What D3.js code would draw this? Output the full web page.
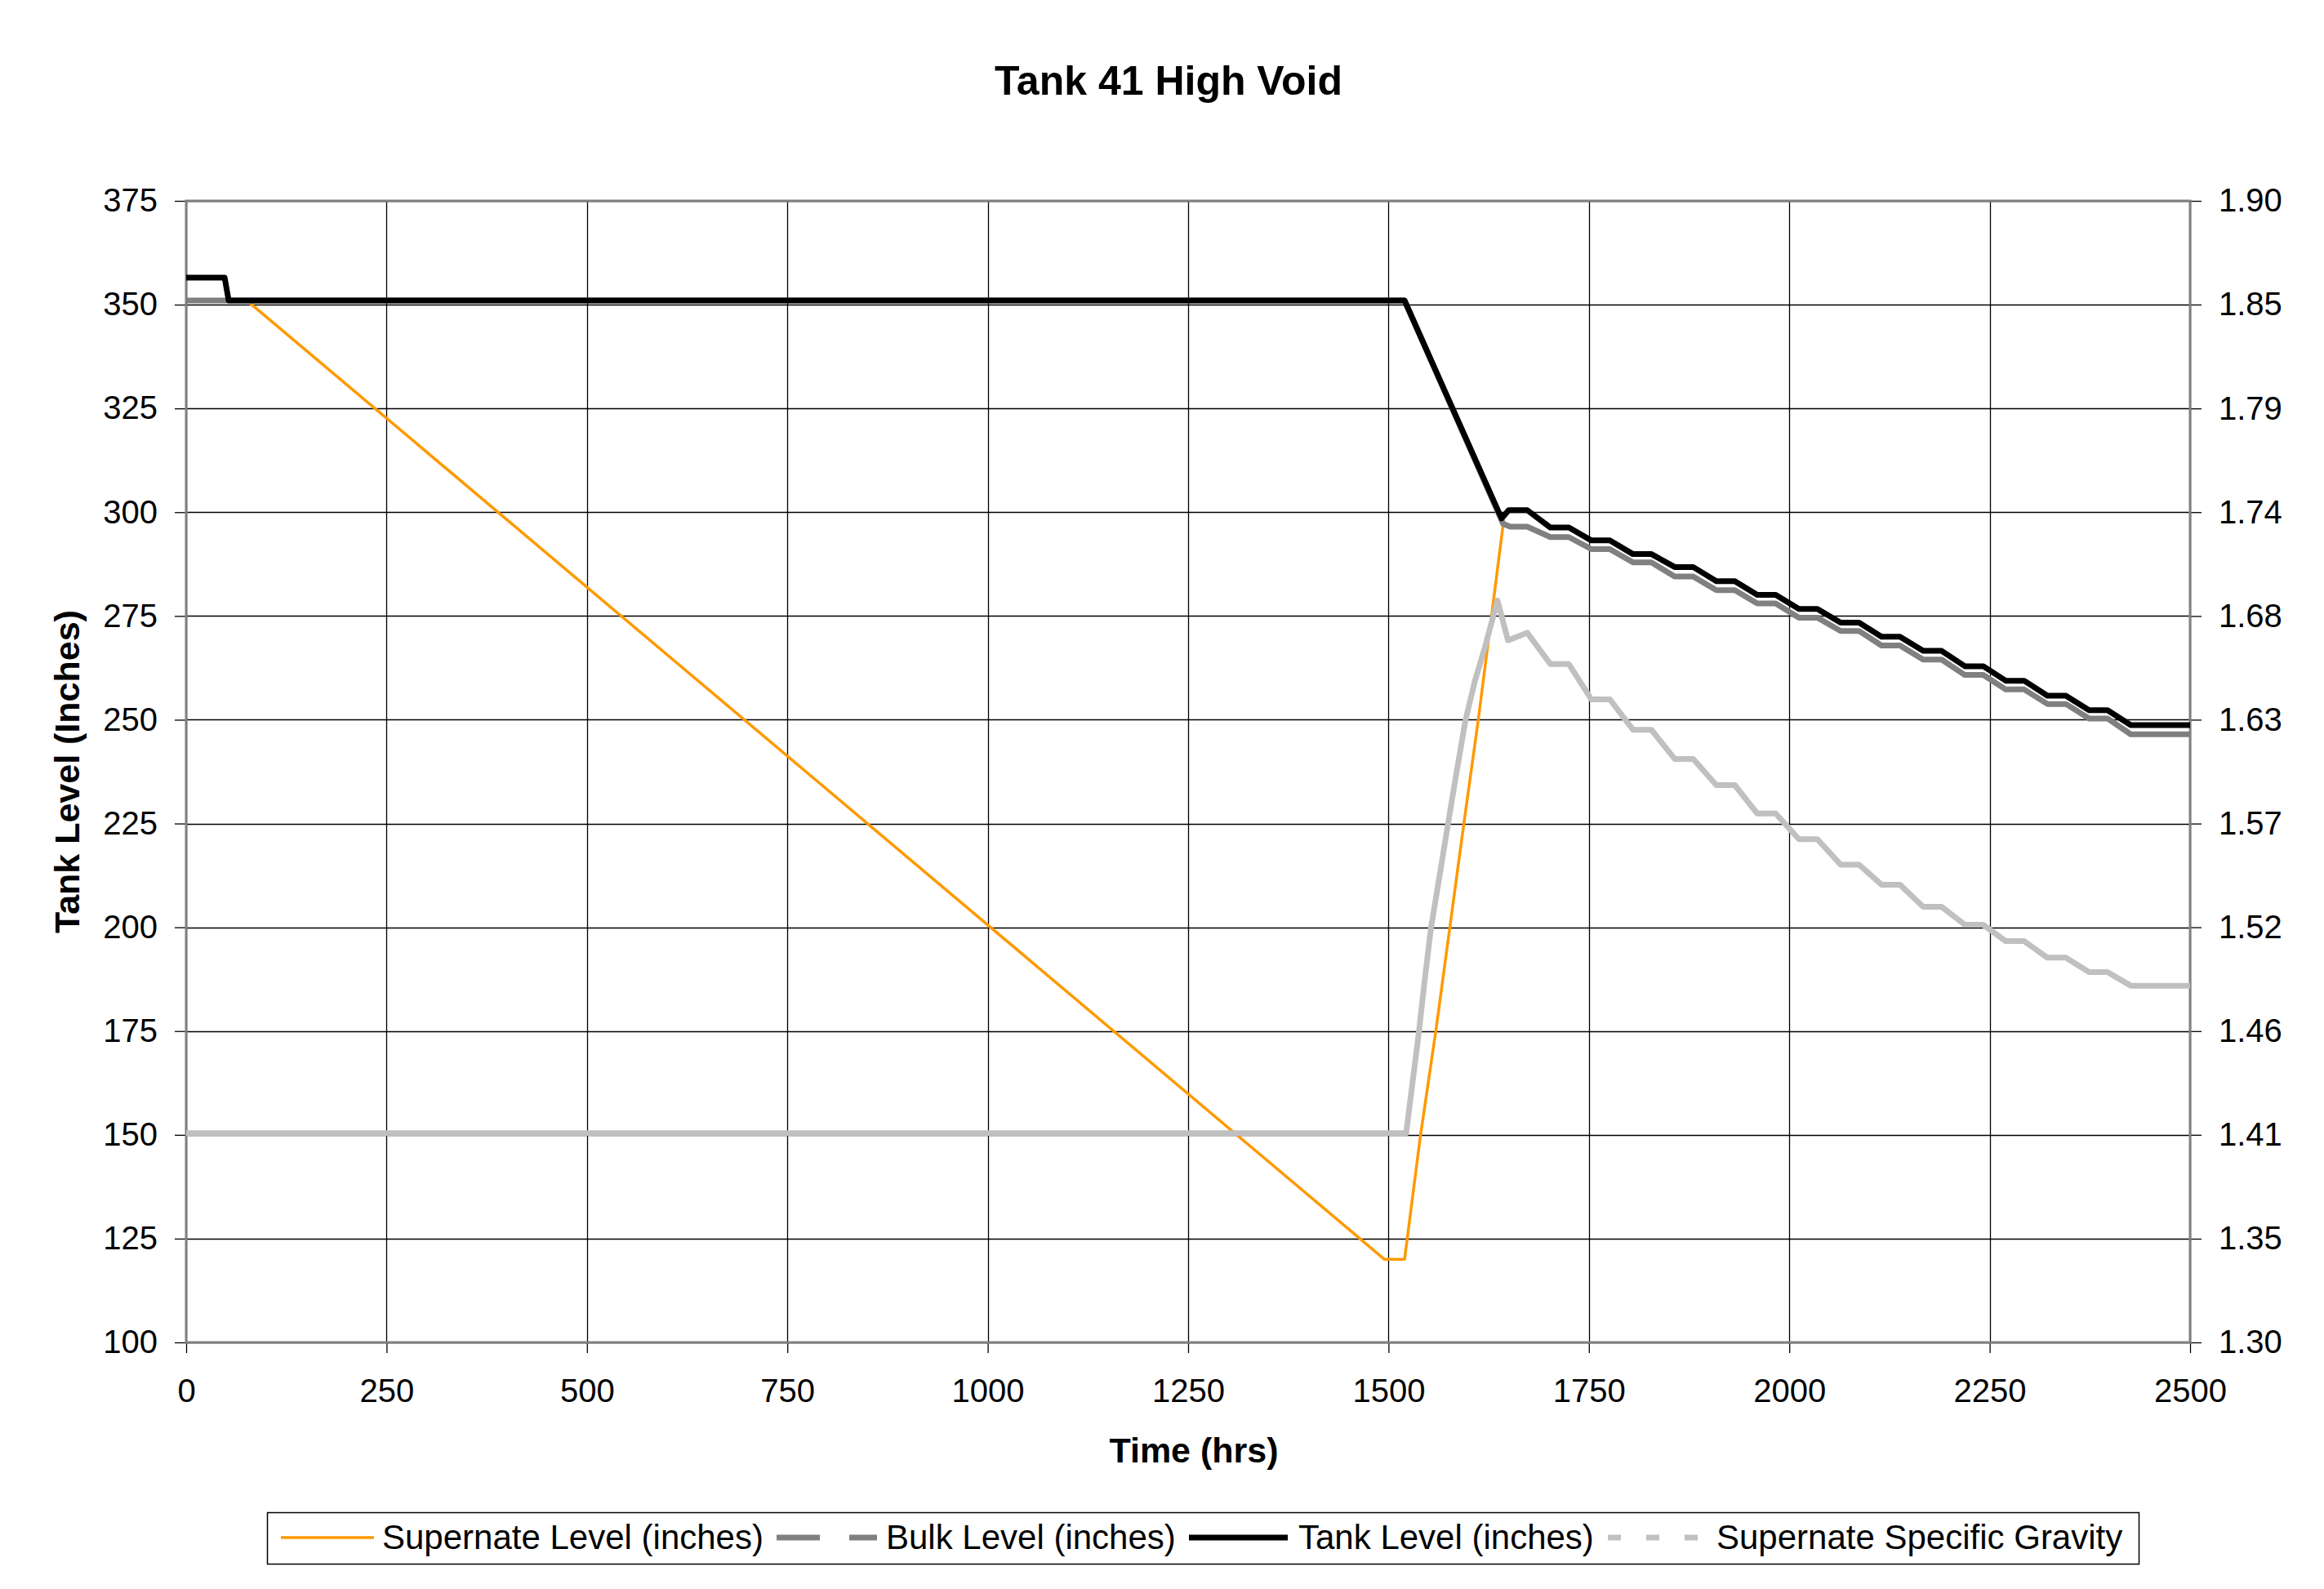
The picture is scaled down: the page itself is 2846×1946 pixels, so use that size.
<!DOCTYPE html>
<html>
<head>
<meta charset="utf-8">
<script src="https://cdn.jsdelivr.net/npm/d3@7"></script>
<style>
  html, body { margin: 0; padding: 0; background: #ffffff; }
  svg text { font-family: "Liberation Sans", Arial, Helvetica, sans-serif; fill: #000; }
</style>
</head>
<body>
<svg id="chart" width="2846" height="1946"></svg>
<script>
// ---------------- DATA ----------------
const chartTitle = "Tank 41 High Void";
const xAxisTitle = "Time (hrs)";
const yAxisTitle = "Tank Level (Inches)";
const seriesNames = ["Supernate Level (inches)", "Bulk Level (inches)", "Tank Level (inches)", "Supernate Specific Gravity"];

const xTickValues = [0, 250, 500, 750, 1000, 1250, 1500, 1750, 2000, 2250, 2500];
const leftTickValues = [100, 125, 150, 175, 200, 225, 250, 275, 300, 325, 350, 375];
const rightTickValues = [1.30, 1.3545, 1.4091, 1.4636, 1.5182, 1.5727, 1.6273, 1.6818, 1.7364, 1.7909, 1.8455, 1.90];
const rightTickLabels = ["1.30", "1.35", "1.41", "1.46", "1.52", "1.57", "1.63", "1.68", "1.74", "1.79", "1.85", "1.90"];

// Supernate Level (inches) - left axis
const supernateTime  = [80, 1495, 1520, 1540, 1559, 1594, 1612, 1643];
const supernateLevel = [350.3, 120, 120, 150, 175, 225, 250, 297];

// Bulk Level (inches) - left axis
const bulkTime  = [0, 1520, 1643, 1652, 1673,
  1702, 1725, 1753, 1776, 1805, 1828, 1857, 1880, 1909, 1932, 1960, 1983,
  2012, 2035, 2064, 2087, 2115, 2138, 2167, 2190, 2219, 2242, 2270, 2293,
  2322, 2345, 2374, 2397, 2426, 2500];
const bulkLevel = [351, 351, 297.2, 296.5, 296.5,
  294.0, 294.0, 291.1, 291.1, 287.9, 287.9, 284.5, 284.5, 281.2, 281.2, 278.0, 278.0,
  274.6, 274.6, 271.4, 271.4, 267.9, 267.9, 264.5, 264.5, 260.8, 260.8, 257.3, 257.3,
  253.8, 253.8, 250.3, 250.3, 246.5, 246.5];

// Tank Level (inches) - left axis
const tankTime  = [0, 48, 53, 1520, 1641, 1650, 1673,
  1702, 1725, 1753, 1776, 1805, 1828, 1857, 1880, 1909, 1932, 1960, 1983,
  2012, 2035, 2064, 2087, 2115, 2138, 2167, 2190, 2219, 2242, 2270, 2293,
  2322, 2345, 2374, 2397, 2426, 2500];
const tankLevel = [356.5, 356.5, 351, 351, 298.5, 300.5, 300.5,
  296.3, 296.3, 293.2, 293.2, 289.9, 289.9, 286.8, 286.8, 283.4, 283.4, 280.1, 280.1,
  276.7, 276.7, 273.4, 273.4, 270.0, 270.0, 266.6, 266.6, 262.9, 262.9, 259.4, 259.4,
  255.8, 255.8, 252.3, 252.3, 248.7, 248.7];

// Supernate Specific Gravity - right axis
const sgTime  = [0, 1522, 1538, 1545, 1553, 1564, 1574, 1585, 1596, 1608, 1620, 1636, 1649, 1673,
  1702, 1725, 1753, 1776, 1805, 1828, 1857, 1880, 1909, 1932, 1960, 1983,
  2012, 2035, 2064, 2087, 2115, 2138, 2167, 2190, 2219, 2242, 2270, 2293,
  2322, 2345, 2374, 2397, 2426, 2500];
const sgValue = [1.41, 1.41, 1.4635, 1.49, 1.518, 1.546, 1.572, 1.600, 1.627, 1.648, 1.665, 1.690, 1.669, 1.673,
  1.6565, 1.6565, 1.638, 1.638, 1.622, 1.622, 1.6067, 1.6067, 1.5929, 1.5929, 1.578, 1.578,
  1.5645, 1.5645, 1.5511, 1.5511, 1.5406, 1.5406, 1.529, 1.529, 1.5195, 1.5195,
  1.5109, 1.5109, 1.5022, 1.5022, 1.4946, 1.4946, 1.4875, 1.4875];

// ---------------- LAYOUT ----------------
const W = 2846, H = 1946;
const plot = { left: 228, right: 2682, top: 246, bottom: 1644 };

const svg = d3.select("#chart");
svg.append("rect").attr("x", 0).attr("y", 0).attr("width", W).attr("height", H).attr("fill", "#fff");

const x = d3.scaleLinear().domain([0, 2500]).range([plot.left, plot.right]);
const yL = d3.scaleLinear().domain([100, 375]).range([plot.bottom, plot.top]);
const yR = d3.scaleLinear().domain([1.30, 1.90]).range([plot.bottom, plot.top]);

// gridlines
const grid = svg.append("g");
grid.selectAll("line.h").data(leftTickValues).enter().append("line")
  .attr("x1", plot.left).attr("x2", plot.right)
  .attr("y1", d => Math.round(yL(d)) + 0.5).attr("y2", d => Math.round(yL(d)) + 0.5)
  .attr("stroke", "#000").attr("stroke-width", 1.3);
grid.selectAll("line.v").data(xTickValues).enter().append("line")
  .attr("y1", plot.top).attr("y2", plot.bottom)
  .attr("x1", d => Math.round(x(d)) + 0.5).attr("x2", d => Math.round(x(d)) + 0.5)
  .attr("stroke", "#000").attr("stroke-width", 1.3);

// axes
function styleAxis(g) {
  g.select(".domain").remove();
  g.selectAll(".tick line").attr("stroke", "#000").attr("stroke-width", 1.3);
  g.selectAll(".tick text").attr("font-size", 40).attr("fill", "#000")
    .attr("font-family", "Liberation Sans, Arial, sans-serif");
}
svg.append("g").attr("transform", `translate(${plot.left},0)`)
  .call(d3.axisLeft(yL).tickValues(leftTickValues).tickSize(14).tickPadding(21).tickFormat(d3.format("d")))
  .call(styleAxis);
svg.append("g").attr("transform", `translate(${plot.right},0)`)
  .call(d3.axisRight(yR).tickValues(rightTickValues).tickSize(14).tickPadding(21)
    .tickFormat((d, i) => rightTickLabels[i]))
  .call(styleAxis);
svg.append("g").attr("transform", `translate(0,${plot.bottom})`)
  .call(d3.axisBottom(x).tickValues(xTickValues).tickSize(13).tickPadding(32).tickFormat(d3.format("d")))
  .call(styleAxis);

// plot border
svg.append("rect")
  .attr("x", plot.left).attr("y", plot.top)
  .attr("width", plot.right - plot.left).attr("height", plot.bottom - plot.top)
  .attr("fill", "none").attr("stroke", "#808080").attr("stroke-width", 3);

// series
const toPts = (ts, vs) => ts.map((t, i) => ({ t: t, v: vs[i] }));
const lineL = d3.line().x(d => x(d.t)).y(d => yL(d.v));
const lineR = d3.line().x(d => x(d.t)).y(d => yR(d.v));

const series = svg.append("g");
series.append("path").datum(toPts(supernateTime, supernateLevel))
  .attr("d", lineL).attr("fill", "none").attr("stroke", "#FF9900")
  .attr("stroke-width", 3.5).attr("stroke-linejoin", "round");
series.append("path").datum(toPts(bulkTime, bulkLevel))
  .attr("d", lineL).attr("fill", "none").attr("stroke", "#808080")
  .attr("stroke-width", 7).attr("stroke-linejoin", "round");
series.append("path").datum(toPts(tankTime, tankLevel))
  .attr("d", lineL).attr("fill", "none").attr("stroke", "#000000")
  .attr("stroke-width", 7).attr("stroke-linejoin", "round");
series.append("path").datum(toPts(sgTime, sgValue))
  .attr("d", lineR).attr("fill", "none").attr("stroke", "#C0C0C0")
  .attr("stroke-width", 7).attr("stroke-linejoin", "round");

// titles
svg.append("text").attr("x", 1431).attr("y", 116).attr("text-anchor", "middle")
  .attr("font-size", 50).attr("font-weight", "bold").text(chartTitle);
svg.append("text").attr("x", 1462).attr("y", 1791).attr("text-anchor", "middle")
  .attr("font-size", 43).attr("font-weight", "bold").text(xAxisTitle);
svg.append("text").attr("transform", `translate(97,${(plot.top + plot.bottom) / 2}) rotate(-90)`)
  .attr("text-anchor", "middle").attr("font-size", 43).attr("font-weight", "bold").text(yAxisTitle);

// legend
const legend = svg.append("g");
legend.append("rect").attr("x", 327.5).attr("y", 1852.5).attr("width", 2292).attr("height", 63)
  .attr("fill", "#fff").attr("stroke", "#000").attr("stroke-width", 1.5);
const legendStyles = [
  { color: "#FF9900", width: 3.5, dash: null, x1: 344, x2: 458, tx: 468 },
  { color: "#808080", width: 7, dash: "53,36", x1: 951, x2: 1074, tx: 1085 },
  { color: "#000000", width: 7, dash: null, x1: 1456, x2: 1577, tx: 1590 },
  { color: "#C0C0C0", width: 7, dash: "16,31", x1: 1969, x2: 2079, tx: 2102 }
];
const ly = 1883;
legendStyles.forEach((s, i) => {
  const ln = legend.append("line").attr("x1", s.x1).attr("x2", s.x2).attr("y1", ly).attr("y2", ly)
    .attr("stroke", s.color).attr("stroke-width", s.width);
  if (s.dash) ln.attr("stroke-dasharray", s.dash);
  legend.append("text").attr("x", s.tx).attr("y", ly + 14).attr("font-size", 42).text(seriesNames[i]);
});
</script>
</body>
</html>
